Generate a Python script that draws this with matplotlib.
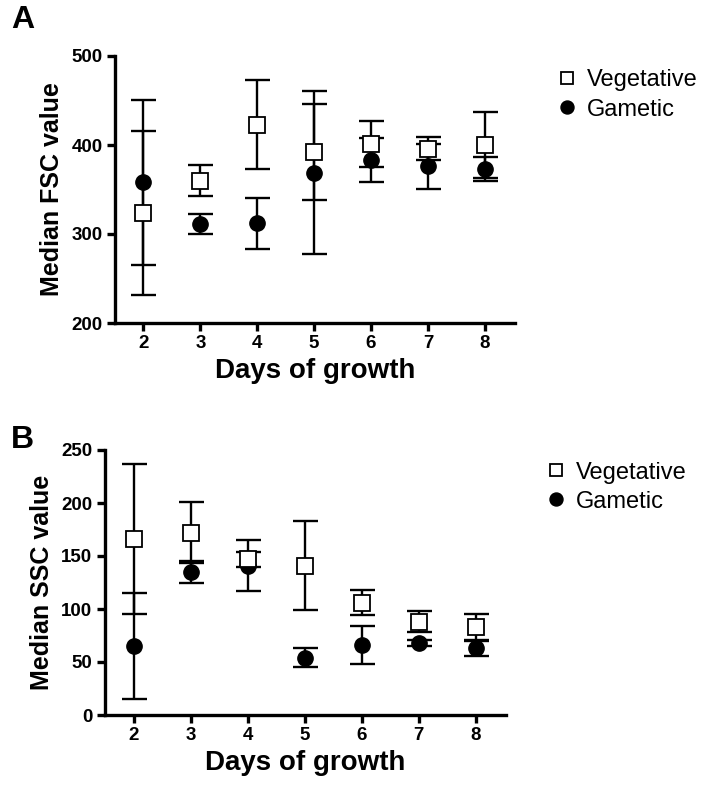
import numpy as np
import matplotlib.pyplot as plt

plt.rcParams['font.family'] = ['Liberation Sans', 'DejaVu Sans']

days = [2, 3, 4, 5, 6, 7, 8]

# panel A: median FSC
fsc_veg = [324, 360, 423, 392, 401, 396, 400]
fsc_veg_err = [92, 17, 50, 54, 26, 13, 37]
fsc_gam = [358, 311, 312, 369, 383, 376, 373]
fsc_gam_err = [93, 11, 29, 92, 25, 25, 14]

# panel B: median SSC
ssc_veg = [166, 172, 147, 141, 106, 88, 83]
ssc_veg_err = [71, 29, 7, 42, 12, 10, 12]
ssc_gam = [65, 135, 141, 54, 66, 68, 63]
ssc_gam_err = [50, 10, 24, 9, 18, 3, 7]


def panel(ax, veg, veg_err, gam, gam_err, ylim, yticks, ylabel, leg_xy):
    eb = dict(fmt='none', ecolor='black', elinewidth=1.7, capsize=9, capthick=1.7)
    ax.errorbar(days, gam, yerr=gam_err, zorder=2, **eb)
    ax.errorbar(days, veg, yerr=veg_err, zorder=2, **eb)
    ax.plot(days, gam, 'o', color='black', markersize=11, zorder=3, label='Gametic')
    ax.plot(days, veg, 's', markerfacecolor='white', markeredgecolor='black',
            markeredgewidth=1.3, markersize=11, zorder=4, label='Vegetative')
    ax.set_xlim(1.5, 8.53)
    ax.set_ylim(*ylim)
    ax.set_xticks(days)
    ax.set_yticks(yticks)
    for s in ['top', 'right']:
        ax.spines[s].set_visible(False)
    for s in ['left', 'bottom']:
        ax.spines[s].set_linewidth(2.4)
    ax.tick_params(width=2.4, length=6, labelsize=13.5, pad=3)
    for lab in ax.get_xticklabels() + ax.get_yticklabels():
        lab.set_fontweight('bold')
    ax.set_xlabel('Days of growth', fontsize=20, fontweight='bold', labelpad=4)
    ax.set_ylabel(ylabel, fontsize=18, fontweight='bold', labelpad=5)
    h, l = ax.get_legend_handles_labels()
    ax.legend(h[::-1], l[::-1], loc='upper left', bbox_to_anchor=leg_xy,
              frameon=False, fontsize=17, handletextpad=0.35, labelspacing=0.3,
              handlelength=1.0, markerscale=0.85, borderaxespad=0)


fig = plt.figure(figsize=(7.05, 7.89), dpi=100)
axA = fig.add_axes([115 / 705, 1 - 323 / 789, 400 / 705, 267 / 789])
axB = fig.add_axes([105 / 705, 1 - 715 / 789, 401 / 705, 265 / 789])

panel(axA, fsc_veg, fsc_veg_err, fsc_gam, fsc_gam_err, (200, 500), [200, 300, 400, 500],
      'Median FSC value', (1.077, 0.985))
panel(axB, ssc_veg, ssc_veg_err, ssc_gam, ssc_gam_err, (0, 250), [0, 50, 100, 150, 200, 250],
      'Median SSC value', (1.072, 0.992))

fig.text(11 / 705, 1 - 20 / 789, 'A', fontsize=23, fontweight='bold', va='center')
fig.text(11 / 705, 1 - 440 / 789, 'B', fontsize=23, fontweight='bold', va='center')

fig.savefig('out.png', dpi=100)
